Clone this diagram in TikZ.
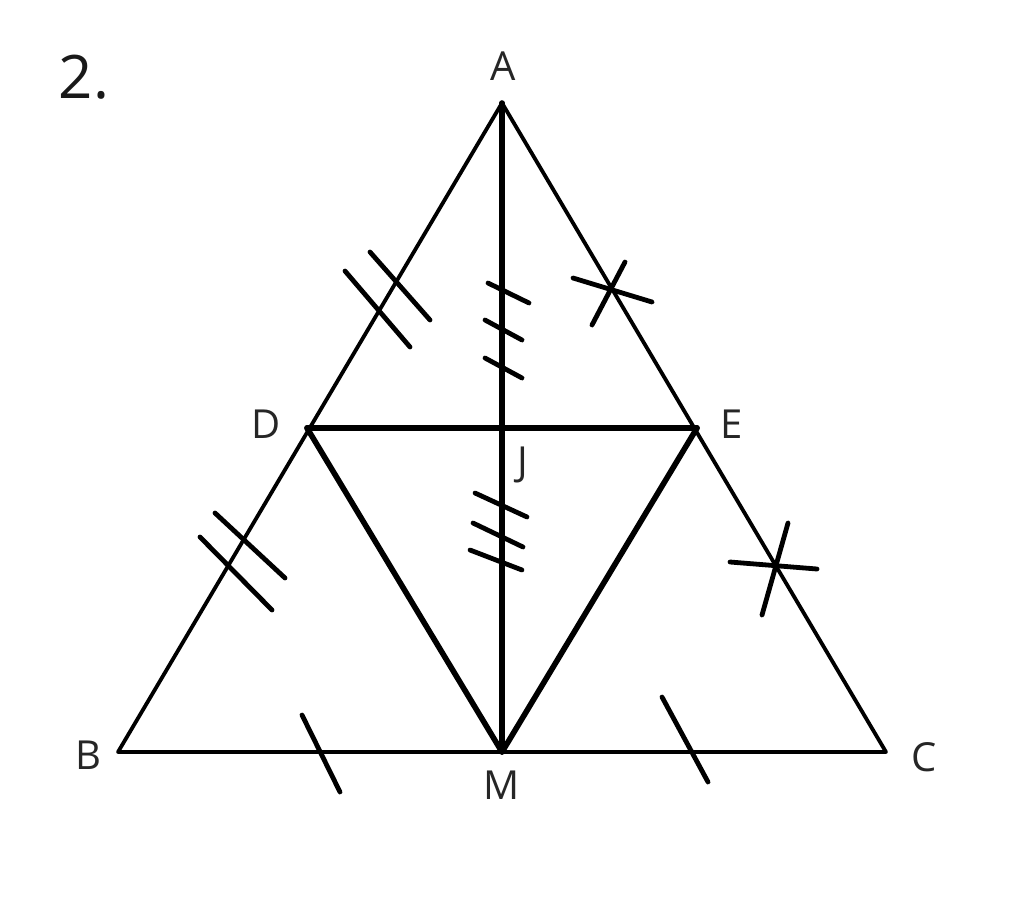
\documentclass[tikz,border=0pt]{standalone}
\usepackage{fontspec}
\setmainfont{Open Sans}
\begin{document}
\begin{tikzpicture}[x=1pt,y=-1pt,
  thin line/.style={line width=3.8pt,line cap=round,line join=round},
  thick line/.style={line width=5.6pt,line cap=round,line join=round},
  tick/.style={line width=4.8pt,line cap=round},
  lbl/.style={font=\fontsize{40}{40}\selectfont,text=black!85,inner sep=0pt}]
\useasboundingbox (0,0) rectangle (1024,897);
\coordinate (A) at (502,103);
\coordinate (B) at (118,752);
\coordinate (C) at (886,752);
\coordinate (D) at (307,428);
\coordinate (E) at (697,428);
\coordinate (M) at (502,752);
\coordinate (J) at (502,428);
% triangle
\draw[thin line] (A) -- (B) -- (C) -- cycle;
\draw[thick line] (D) -- (M) -- (E);
\draw[thick line] (D) -- (E);
\draw[thick line] (A) -- (M);
% ticks AD
\coordinate (t1a) at (345,271); \coordinate (t1b) at (410,347);
\coordinate (t2a) at (370,252); \coordinate (t2b) at (430,320);
\draw[tick] (t1a) -- (t1b);
\draw[tick] (t2a) -- (t2b);
% ticks DB
\coordinate (t3a) at (215,513); \coordinate (t3b) at (285,578);
\coordinate (t4a) at (200,537); \coordinate (t4b) at (272,610);
\draw[tick] (t3a) -- (t3b);
\draw[tick] (t4a) -- (t4b);
% ticks AJ
\coordinate (t5a) at (488,283); \coordinate (t5b) at (529,303);
\coordinate (t6a) at (485,320); \coordinate (t6b) at (522,340);
\coordinate (t7a) at (485,358); \coordinate (t7b) at (522,378);
\draw[tick] (t5a) -- (t5b);
\draw[tick] (t6a) -- (t6b);
\draw[tick] (t7a) -- (t7b);
% ticks JM
\coordinate (t8a) at (475,493); \coordinate (t8b) at (527,517);
\coordinate (t9a) at (473,523); \coordinate (t9b) at (523,547);
\coordinate (t10a) at (470,550); \coordinate (t10b) at (522,570);
\draw[tick] (t8a) -- (t8b);
\draw[tick] (t9a) -- (t9b);
\draw[tick] (t10a) -- (t10b);
% ticks AE
\coordinate (t11a) at (573,278); \coordinate (t11b) at (652,302);
\coordinate (t12a) at (625,262); \coordinate (t12b) at (592,325);
\draw[tick] (t11a) -- (t11b);
\draw[tick] (t12a) -- (t12b);
% ticks EC
\coordinate (t13a) at (730,562); \coordinate (t13b) at (817,569);
\coordinate (t14a) at (788,523); \coordinate (t14b) at (762,615);
\draw[tick] (t13a) -- (t13b);
\draw[tick] (t14a) -- (t14b);
% ticks BM, MC
\coordinate (t15a) at (302,715); \coordinate (t15b) at (340,792);
\coordinate (t16a) at (662,697); \coordinate (t16b) at (708,782);
\draw[tick] (t15a) -- (t15b);
\draw[tick] (t16a) -- (t16b);
% labels
\node[lbl] (lA) at (503,66) {A};
\node[lbl] (lB) at (88,755) {B};
\node[lbl] (lC) at (924,757) {C};
\node[lbl] (lD) at (266,424) {D};
\node[lbl] (lE) at (732,424) {E};
\node[lbl] (lM) at (502,785) {M};
\node[lbl] (lJ) at (523,465) {J};
\node[font=\fontsize{60}{60}\selectfont,inner sep=0pt,text=black!90] (num) at (84,77) {2.};
\end{tikzpicture}
\end{document}
